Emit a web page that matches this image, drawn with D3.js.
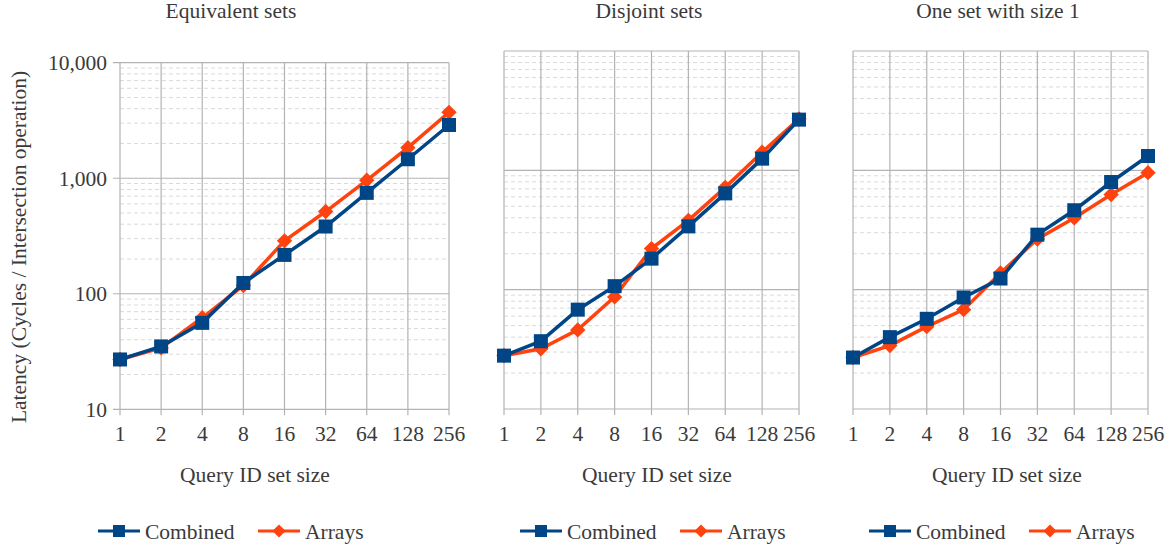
<!DOCTYPE html>
<html>
<head>
<meta charset="utf-8">
<script src="https://cdn.jsdelivr.net/npm/d3@7"></script>
<style>
  body { margin: 0; background: #fff; }
  svg { font-family: "Liberation Serif", "Times New Roman", serif; }
  text { fill: #3a3a3a; }
</style>
</head>
<body>
<div class="canvas"></div>
<script>
const sizes = ['1', '2', '4', '8', '16', '32', '64', '128', '256'];
const titles = ['Equivalent sets', 'Disjoint sets', 'One set with size 1'];
const seriesNames = ['Combined', 'Arrays'];
const yTicks = [10, 100, 1000, 10000];

// values (cycles / intersection operation)
const equivCombined = [27, 35, 56, 124, 217, 382, 747, 1460, 2890];
const equivArrays = [27, 34, 62, 118, 287, 515, 960, 1840, 3720];
const disjCombined = [28, 37, 68, 107, 182, 339, 641, 1253, 2660];
const disjArrays = [28, 32, 46, 87, 221, 381, 720, 1420, 2700];
const oneCombined = [27, 40, 57, 86, 124, 289, 463, 798, 1318];
const oneArrays = [27, 34, 49, 68, 138, 266, 399, 626, 956];

const colors = { Combined: '#004586', Arrays: '#ff420e' };
const fs = '21.5px';

const panels = [
  { title: titles[0], data: [equivCombined, equivArrays], x0: 120, x1: 449, top: 62.7, bottom: 409.3, yLabels: true, titleX: 231, axisX: 255, legendX: 98 },
  { title: titles[1], data: [disjCombined, disjArrays], x0: 504, x1: 799, top: 51, bottom: 409, yLabels: false, titleX: 649, axisX: 657, legendX: 520 },
  { title: titles[2], data: [oneCombined, oneArrays], x0: 853, x1: 1148, top: 51, bottom: 409, yLabels: false, titleX: 998, axisX: 1007, legendX: 869 }
];

const svg = d3.select('.canvas')
  .append('svg')
  .attr('width', 1174)
  .attr('height', 546);

// y axis title
svg.append('text')
  .attr('transform', 'translate(26,247) rotate(-90)')
  .attr('text-anchor', 'middle')
  .style('font-size', fs)
  .text('Latency (Cycles / Intersection operation)');

const fmt = d3.format(',');

panels.forEach(p => {
  const x = d3.scalePoint().domain(sizes).range([p.x0, p.x1]);
  const y = d3.scaleLog().domain([10, 10000]).range([p.bottom, p.top]);
  const g = svg.append('g');

  // title
  g.append('text')
    .attr('x', p.titleX).attr('y', 18)
    .attr('text-anchor', 'middle')
    .style('font-size', fs)
    .text(p.title);

  // minor dashed gridlines
  const minors = [];
  [10, 100, 1000].forEach(d => { for (let k = 2; k <= 9; k++) minors.push(d * k); });
  g.selectAll('.minor').data(minors).enter().append('line')
    .attr('x1', p.x0).attr('x2', p.x1)
    .attr('y1', d => y(d)).attr('y2', d => y(d))
    .attr('stroke', '#dadada').attr('stroke-width', 1)
    .attr('stroke-dasharray', '4,3');

  // vertical gridlines
  g.selectAll('.vgrid').data(sizes).enter().append('line')
    .attr('x1', d => x(d)).attr('x2', d => x(d))
    .attr('y1', p.top).attr('y2', p.bottom + 6)
    .attr('stroke', '#b3b3b3').attr('stroke-width', 1.2);

  // major gridlines
  g.selectAll('.major').data(yTicks).enter().append('line')
    .attr('x1', p.yLabels ? p.x0 - 7 : p.x0).attr('x2', p.x1)
    .attr('y1', d => y(d)).attr('y2', d => y(d))
    .attr('stroke', '#b3b3b3').attr('stroke-width', 1.2);

  if (p.yLabels) {
    g.selectAll('.ylab').data(yTicks).enter().append('text')
      .attr('x', p.x0 - 13).attr('y', d => y(d))
      .attr('dy', '0.35em')
      .attr('text-anchor', 'end')
      .style('font-size', fs)
      .text(d => fmt(d));
  }

  // x tick labels
  g.selectAll('.xlab').data(sizes).enter().append('text')
    .attr('x', d => x(d)).attr('y', 441)
    .attr('text-anchor', 'middle')
    .style('font-size', fs)
    .text(d => d);

  g.append('text')
    .attr('x', p.axisX).attr('y', 482)
    .attr('text-anchor', 'middle')
    .style('font-size', fs)
    .text('Query ID set size');

  const line = d3.line().x((d, i) => x(sizes[i])).y(d => y(d));

  // draw Arrays first, Combined on top
  [1, 0].forEach(si => {
    const name = seriesNames[si];
    const vals = p.data[si];
    g.append('path')
      .attr('d', line(vals))
      .attr('fill', 'none')
      .attr('stroke', colors[name])
      .attr('stroke-width', 3.5);
    if (name === 'Combined') {
      g.selectAll('.sq' + si).data(vals).enter().append('rect')
        .attr('x', (d, i) => x(sizes[i]) - 7).attr('y', d => y(d) - 7)
        .attr('width', 14).attr('height', 14)
        .attr('fill', colors[name]);
    } else {
      g.selectAll('.dm' + si).data(vals).enter().append('path')
        .attr('d', d3.symbol().type(d3.symbolDiamond2).size(150))
        .attr('transform', (d, i) => `translate(${x(sizes[i])},${y(d)})`)
        .attr('fill', colors[name]);
    }
  });

  // legend
  const lg = g.append('g').attr('transform', `translate(${p.legendX},531)`);
  seriesNames.forEach((name, i) => {
    const ox = i * 160;
    lg.append('line')
      .attr('x1', ox).attr('x2', ox + 42)
      .attr('stroke', colors[name]).attr('stroke-width', 3);
    if (name === 'Combined') {
      lg.append('rect').attr('x', ox + 15).attr('y', -6).attr('width', 12).attr('height', 12)
        .attr('fill', colors[name]);
    } else {
      lg.append('path')
        .attr('d', d3.symbol().type(d3.symbolDiamond2).size(110))
        .attr('transform', `translate(${ox + 21},0)`)
        .attr('fill', colors[name]);
    }
    lg.append('text')
      .attr('x', ox + 47).attr('y', 0).attr('dy', '0.35em')
      .style('font-size', fs)
      .text(name);
  });
});
</script>
</body>
</html>
